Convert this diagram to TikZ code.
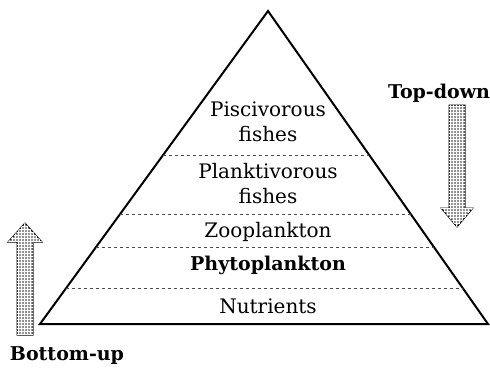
\documentclass[tikz,border=0pt]{standalone}
\usepackage{fontspec}
\setmainfont{DejaVu Serif}
\usetikzlibrary{calc,patterns}
\tikzset{
  edge/.style={line width=2pt, line join=miter},
  level/.style={draw=black!70, line width=0.9pt, dash pattern=on 3pt off 3pt},
  lbl/.style={font=\fontsize{20}{25}\selectfont, inner sep=0pt, align=center, anchor=base},
  blbl/.style={font=\fontsize{19}{25}\selectfont\bfseries, inner sep=0pt, anchor=base},
  bigarrow/.style={draw=black, line width=1pt, fill=gray!85},
  dots/.style={pattern=grid, pattern color=white}
}
\begin{document}
\begin{tikzpicture}[x=1pt,y=-1pt]
\useasboundingbox (0,0) rectangle (490,367);
\coordinate (A) at (268,11);
\coordinate (BL) at (40,324);
\coordinate (BR) at (488,324);
\draw[edge] (BL) -- (A) -- (BR) -- cycle;
\foreach \t in {0.46,0.6486,0.754,0.888}{
  \draw[level] ($(A)!\t!(BL)$) -- ($(A)!\t!(BR)$);
}
\node[lbl] (pisc) at (268,141) {Piscivorous\\fishes};
\node[lbl] (plank) at (268,203) {Planktivorous\\fishes};
\node[lbl] (zoo) at (268,237) {Zooplankton};
\node[blbl] (phyto) at (268,270) {Phytoplankton};
\node[lbl] (nut) at (268,313) {Nutrients};
% top-down arrow
\node[blbl] (td) at (439,98) {Top-down};
\coordinate (tdtip) at (457,227);
\path[bigarrow] (449,105) -- (465,105) -- (465,208) -- (473,208) -- (tdtip) -- (441,208) -- (449,208) -- cycle;
\path[dots] (449,105) -- (465,105) -- (465,208) -- (473,208) -- (tdtip) -- (441,208) -- (449,208) -- cycle;
% bottom-up arrow
\node[blbl] (bu) at (67,360) {Bottom-up};
\coordinate (butip) at (25,223);
\path[bigarrow] (17,335) -- (33,335) -- (33,242) -- (42,242) -- (butip) -- (8,242) -- (17,242) -- cycle;
\path[dots] (17,335) -- (33,335) -- (33,242) -- (42,242) -- (butip) -- (8,242) -- (17,242) -- cycle;
\end{tikzpicture}
\end{document}
